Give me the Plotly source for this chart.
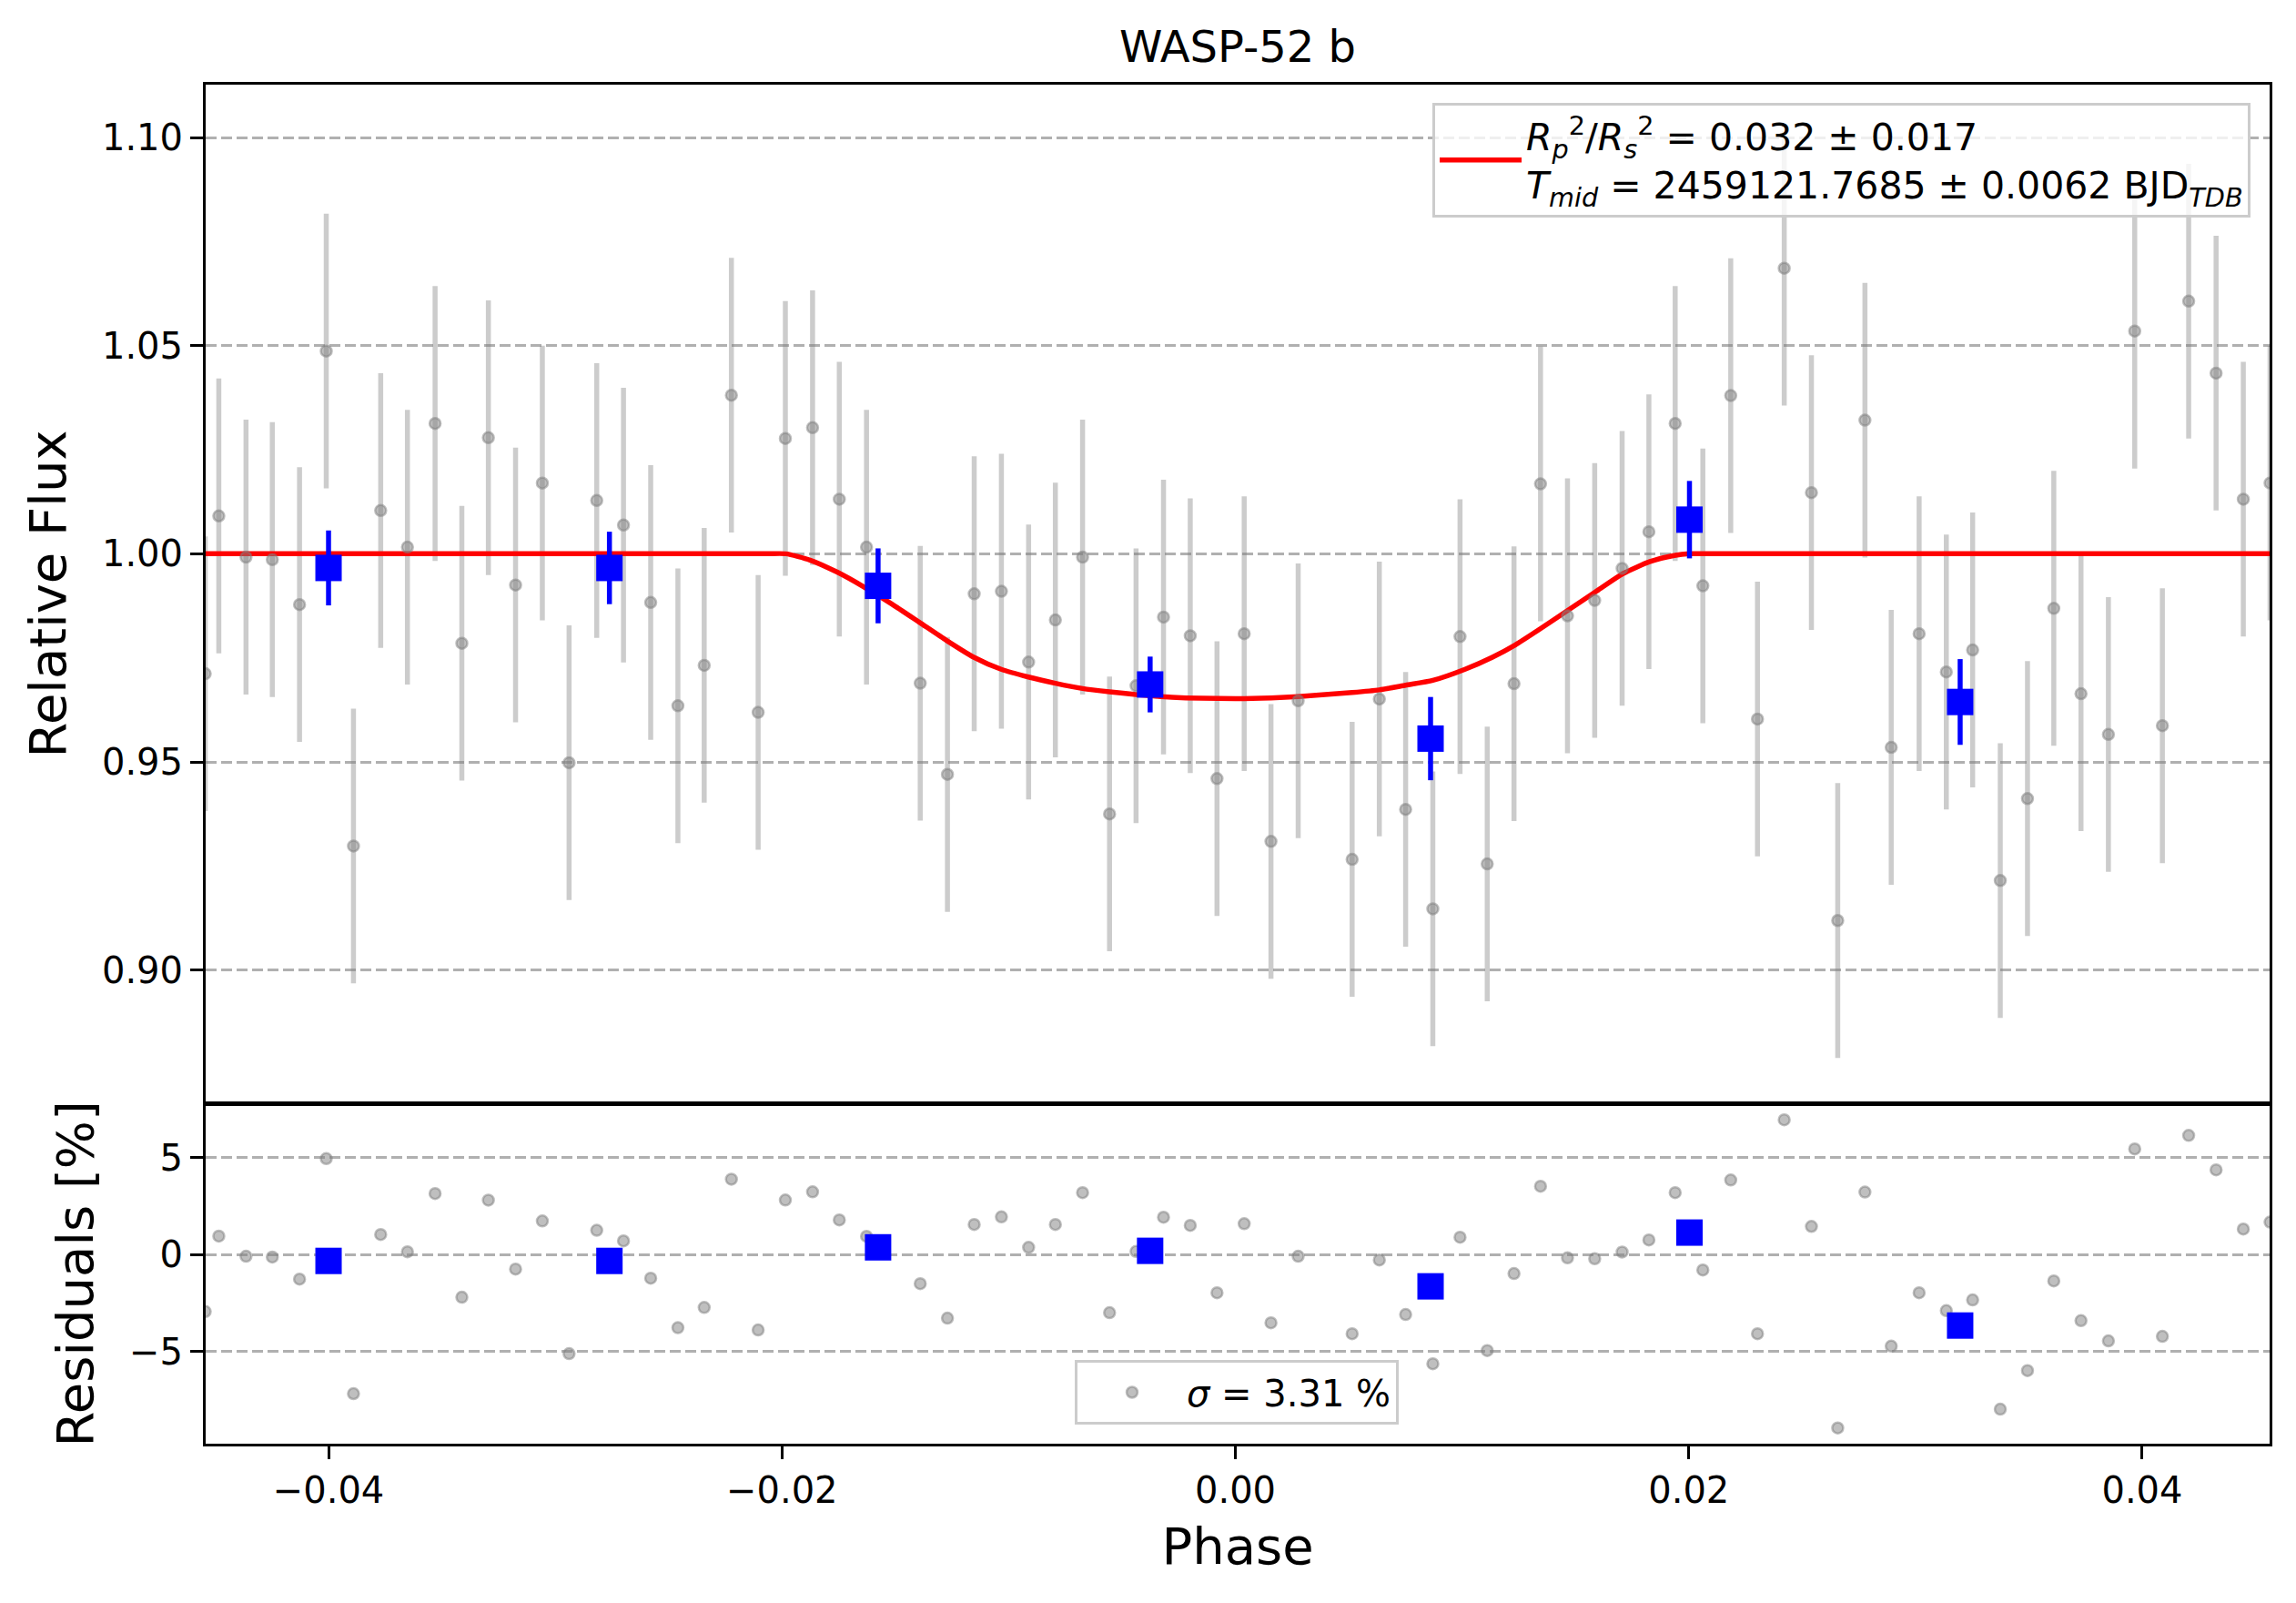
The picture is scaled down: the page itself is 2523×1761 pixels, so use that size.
import plotly.graph_objects as go

# ---------------- data ----------------
phase = [-0.04544, -0.04484, -0.04364, -0.04248, -0.04128, -0.04010, -0.03890, -0.03770,
         -0.03652, -0.03530, -0.03412, -0.03295, -0.03175, -0.03057, -0.02939, -0.02817,
         -0.02699, -0.02579, -0.02459, -0.02343, -0.02223, -0.02105, -0.01985, -0.01865,
         -0.01747, -0.01627, -0.01390, -0.01270, -0.01152, -0.01032, -0.00912, -0.00794,
         -0.00674, -0.00555, -0.00438, -0.00317, -0.00199, -0.00081, 0.00039, 0.00157,
         0.00277, 0.00515, 0.00635, 0.00751, 0.00871, 0.00991, 0.01111, 0.01229,
         0.01346, 0.01465, 0.01585, 0.01706, 0.01824, 0.01940, 0.02062, 0.02185,
         0.02303, 0.02421, 0.02541, 0.02657, 0.02777, 0.02893, 0.03016, 0.03136,
         0.03252, 0.03374, 0.03494, 0.03610, 0.03730, 0.03851, 0.03967, 0.04089,
         0.04205, 0.04326, 0.04446, 0.04564]

flux = [0.9712, 1.0091, 0.9992, 0.9986, 0.9878, 1.0487, 0.9298, 1.0104,
        1.0016, 1.0313, 0.9785, 1.0279, 0.9925, 1.0170, 0.9498, 1.0128,
        1.0069, 0.9883, 0.9635, 0.9732, 1.0381, 0.9619, 1.0277, 1.0303,
        1.0131, 1.0016, 0.9689, 0.9470, 0.9904, 0.9910, 0.9740, 0.9841,
        0.9992, 0.9375, 0.9683, 0.9848, 0.9803, 0.9460, 0.9808, 0.9309,
        0.9647, 0.9266, 0.9651, 0.9386, 0.9147, 0.9801, 0.9255, 0.9688,
        1.0168, 0.9851, 0.9888, 0.9965, 1.0053, 1.0313, 0.9923, 1.0380,
        0.9603, 1.0686, 1.0147, 0.9119, 1.0321, 0.9535, 0.9808, 0.9716,
        0.9769, 0.9215, 0.9412, 0.9869, 0.9664, 0.9566, 1.0535, 0.9587,
        1.0607, 1.0434, 1.0131, 1.0170]

flux_err = 0.033

residuals = [-2.94, 0.95, -0.09, -0.13, -1.27, 4.94, -7.17, 1.03,
             0.14, 3.14, -2.20, 2.80, -0.75, 1.73, -5.11, 1.25,
             0.70, -1.22, -3.77, -2.73, 3.88, -3.89, 2.81, 3.23,
             1.78, 0.94, -1.50, -3.28, 1.55, 1.94, 0.37, 1.55,
             3.19, -3.00, 0.16, 1.92, 1.50, -1.97, 1.59, -3.52,
             -0.09, -4.08, -0.28, -3.09, -5.63, 0.89, -4.95, -0.98,
             3.52, -0.17, -0.22, 0.13, 0.75, 3.19, -0.80, 3.84,
             -4.08, 6.94, 1.45, -8.94, 3.22, -4.72, -1.97, -2.89,
             -2.34, -7.97, -5.98, -1.36, -3.41, -4.45, 5.44, -4.22,
             6.14, 4.36, 1.31, 1.67]

bin_phase = [-0.04000, -0.02761, -0.01576, -0.00376, 0.00861, 0.02003, 0.03197]
bin_flux = [0.9966, 0.9966, 0.9923, 0.9686, 0.9556, 1.0082, 0.9644]
bin_err = [0.0090, 0.0087, 0.0090, 0.0067, 0.0100, 0.0093, 0.0103]
bin_resid = [-0.33, -0.33, 0.37, 0.19, -1.64, 1.13, -3.66]

model_phase = [-0.04542, -0.02077, -0.01983, -0.01876, -0.01756, -0.01635, -0.01515,
               -0.01394, -0.01274, -0.01154, -0.01033, -0.00913, -0.00794, -0.00674,
               -0.00555, -0.00438, -0.00280, 0.00000, 0.00157, 0.00277, 0.00515,
               0.00635, 0.00751, 0.00871, 0.01013, 0.01134, 0.01234, 0.01348,
               0.01468, 0.01588, 0.01709, 0.01829, 0.01936, 0.02003, 0.02100, 0.04562]
model_flux = [1.0, 1.0, 1.0, 0.99849, 0.99558, 0.99193, 0.98793,
              0.98355, 0.97918, 0.97516, 0.97225, 0.97040, 0.96890, 0.96763,
              0.96683, 0.96619, 0.96554, 0.96522, 0.96538, 0.96570, 0.96667,
              0.96731, 0.96843, 0.96960, 0.97226, 0.97516, 0.97809, 0.98209,
              0.98646, 0.99084, 0.99521, 0.99812, 0.99958, 1.0, 1.0, 1.0]

title_text = "WASP-52 b"
model_label = ("<i>R</i><sub><i>p</i></sub><sup>2</sup>/<i>R</i><sub><i>s</i></sub><sup>2</sup>"
               " = 0.032 ± 0.017<br><i>T</i><sub><i>mid</i></sub> = 2459121.7685 ± 0.0062 "
               "BJD<sub><i>TDB</i></sub>")
sigma_label = "<i>σ</i> = 3.31 %"
x_ticks = [-0.04, -0.02, 0.00, 0.02, 0.04]
x_ticktext = ["−0.04", "−0.02", "0.00", "0.02", "0.04"]
y_ticks = [0.90, 0.95, 1.00, 1.05, 1.10]
r_ticks = [-5, 0, 5]
r_ticktext = ["−5", "0", "5"]

# ---------------- figure ----------------
FONT = "DejaVu Sans"
PAGE_OFF = 8                      # default body margin of the html page
W, H = 2523 - 2 * PAGE_OFF, 1761 - 2 * PAGE_OFF
GRAY_M = "rgba(128,128,128,0.5)"
GRAY_E = "rgba(128,128,128,0.4)"

# target plot area in window pixels
PX_L, PX_R, PX_T, PX_B = 226, 2494, 93, 1586
L = PX_L - PAGE_OFF
R = (PAGE_OFF + W) - PX_R
T = PX_T - PAGE_OFF
B = (PAGE_OFF + H) - PX_B
plot_w = W - L - R
plot_h = H - T - B
split = (PX_B - 1212) / plot_h

fig = go.Figure()

# gray error bars (main)
fig.add_trace(go.Scatter(
    x=phase, y=flux, mode="markers", xaxis="x", yaxis="y",
    marker=dict(size=12, color="rgba(0,0,0,0)"),
    error_y=dict(type="constant", value=flux_err, color=GRAY_E, thickness=5.5, width=0),
    showlegend=False, hoverinfo="skip"))

# model line
fig.add_trace(go.Scatter(
    x=model_phase, y=model_flux, mode="lines", xaxis="x", yaxis="y",
    line=dict(color="red", width=5.5, shape="spline", smoothing=0.6),
    name=model_label, legend="legend"))

# gray markers (main)
fig.add_trace(go.Scatter(
    x=phase, y=flux, mode="markers", xaxis="x", yaxis="y",
    marker=dict(size=12, color=GRAY_M, line=dict(color=GRAY_M, width=2.5)),
    showlegend=False))

# binned (main)
fig.add_trace(go.Scatter(
    x=bin_phase, y=bin_flux, mode="markers", xaxis="x", yaxis="y",
    marker=dict(symbol="square", size=29, color="blue"),
    error_y=dict(type="data", array=bin_err, color="blue", thickness=5.5, width=0),
    showlegend=False))

# residuals
fig.add_trace(go.Scatter(
    x=phase, y=residuals, mode="markers", xaxis="x2", yaxis="y2",
    marker=dict(size=12, color=GRAY_M, line=dict(color=GRAY_M, width=2.5)),
    name=sigma_label, legend="legend2"))

fig.add_trace(go.Scatter(
    x=bin_phase, y=bin_resid, mode="markers", xaxis="x2", yaxis="y2",
    marker=dict(symbol="square", size=29, color="blue"),
    showlegend=False))

line_axis = dict(showline=True, linecolor="black", linewidth=3, mirror=True, zeroline=False)
tick_axis = dict(tickfont=dict(family=FONT, size=40, color="black"),
                 tickcolor="black", tickwidth=3, ticklen=14, ticks="outside")
grid = dict(showgrid=True, gridcolor="#b0b0b0", gridwidth=2.8, griddash="12px,5px")
label_font = dict(family=FONT, size=56, color="black")

xrange = [-0.04542, 0.04562]

fig.update_layout(
    width=W, height=H, autosize=False,
    margin=dict(l=L, r=R, t=T, b=B, pad=0),
    paper_bgcolor="white", plot_bgcolor="white",
    font=dict(family=FONT, color="black"),
    title=dict(text=title_text, x=0.5, xref="paper", xanchor="center",
               y=1 - (51 - PAGE_OFF) / H, yref="container", yanchor="middle",
               font=dict(family=FONT, size=48, color="black")),
    xaxis=dict(domain=[0, 1], range=xrange, anchor="y", matches="x2",
               showticklabels=False, ticks="", showgrid=False, **line_axis),
    yaxis=dict(domain=[split, 1], range=[0.868, 1.1127], anchor="x",
               tickvals=y_ticks, tickformat=".2f",
               title=dict(text="Relative Flux", font=label_font, standoff=22),
               **grid, **line_axis, **tick_axis),
    xaxis2=dict(domain=[0, 1], range=xrange, anchor="y2",
                tickvals=x_ticks, ticktext=x_ticktext, showgrid=False,
                title=dict(text="Phase", font=label_font, standoff=20),
                **line_axis, **tick_axis),
    yaxis2=dict(domain=[0, split - 0.0005], range=[-9.75, 7.76], anchor="x2",
                tickvals=r_ticks, ticktext=r_ticktext,
                title=dict(text="Residuals [%]", font=label_font, standoff=22),
                **grid, **line_axis, **tick_axis),
    legend=dict(x=(2473 - PX_L) / plot_w, y=(PX_B - 113) / plot_h,
                xanchor="right", yanchor="top", bgcolor="rgba(255,255,255,0.8)",
                bordercolor="#cccccc", borderwidth=3,
                font=dict(family=FONT, size=41, color="black"), itemwidth=90),
    legend2=dict(x=(1359 - PX_L) / plot_w, y=(PX_B - 1565) / plot_h,
                 xanchor="center", yanchor="bottom", bgcolor="rgba(255,255,255,0.8)",
                 bordercolor="#cccccc", borderwidth=3,
                 font=dict(family=FONT, size=40, color="black"), itemwidth=110),
)

fig.write_html("out.html")
